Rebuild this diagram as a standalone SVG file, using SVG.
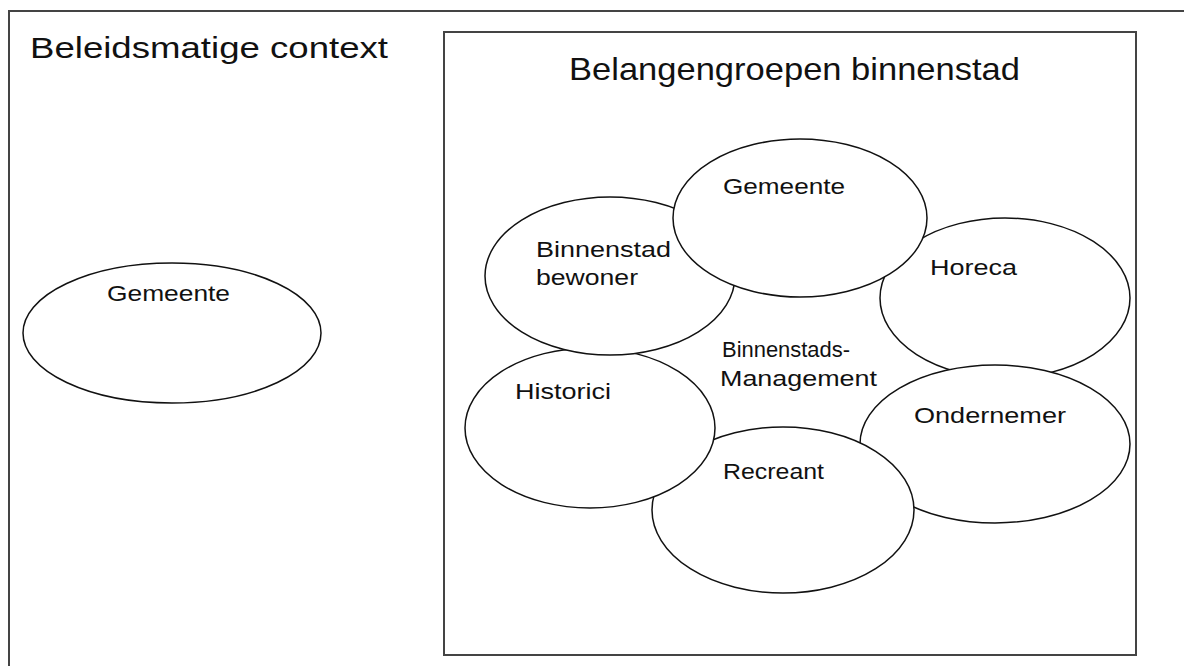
<svg xmlns="http://www.w3.org/2000/svg" width="1184" height="666" viewBox="0 0 1184 666">
  <style>
    .frame { fill: none; stroke: #444; stroke-width: 2; }
    .node ellipse { fill: #fff; stroke: #111; stroke-width: 1.5; }
    text { font-family: "Liberation Sans", Arial, sans-serif; fill: #111; }
    .title { font-size: 29px; }
    .title2 { font-size: 32px; }
    .label { font-size: 22px; }
  </style>
  <rect width="1184" height="666" fill="#fff"/>
  <g id="context">
    <rect class="frame" x="9" y="11" width="1190" height="670"/>
    <text class="title" x="30" y="58" textLength="358" lengthAdjust="spacingAndGlyphs">Beleidsmatige context</text>
  </g>
  <g id="belangengroepen">
    <rect class="frame" x="444" y="32" width="692" height="623"/>
    <text class="title2" x="569" y="80" textLength="451" lengthAdjust="spacingAndGlyphs">Belangengroepen binnenstad</text>
  </g>
  <g id="gemeente-context" class="node">
    <ellipse cx="172" cy="333" rx="149" ry="70"/>
    <text class="label" x="107" y="301" textLength="123" lengthAdjust="spacingAndGlyphs">Gemeente</text>
  </g>
  <g id="horeca" class="node">
    <ellipse cx="1005" cy="298" rx="125" ry="80"/>
    <text class="label" x="930" y="275" textLength="87" lengthAdjust="spacingAndGlyphs">Horeca</text>
  </g>
  <g id="ondernemer" class="node">
    <ellipse cx="995" cy="444" rx="135" ry="79"/>
    <text class="label" x="914" y="423" textLength="152" lengthAdjust="spacingAndGlyphs">Ondernemer</text>
  </g>
  <g id="recreant" class="node">
    <ellipse cx="783" cy="510" rx="131" ry="83"/>
    <text class="label" x="723" y="479" textLength="101" lengthAdjust="spacingAndGlyphs">Recreant</text>
  </g>
  <g id="historici" class="node">
    <ellipse cx="590" cy="428" rx="125" ry="80"/>
    <text class="label" x="515" y="399" textLength="96" lengthAdjust="spacingAndGlyphs">Historici</text>
  </g>
  <g id="binnenstadbewoner" class="node">
    <ellipse cx="610" cy="276" rx="125" ry="79"/>
    <text class="label" x="536" y="257" textLength="135" lengthAdjust="spacingAndGlyphs">Binnenstad</text>
    <text class="label" x="536" y="285" textLength="102" lengthAdjust="spacingAndGlyphs">bewoner</text>
  </g>
  <g id="gemeente" class="node">
    <ellipse cx="800" cy="218" rx="127" ry="79"/>
    <text class="label" x="723" y="194" textLength="122" lengthAdjust="spacingAndGlyphs">Gemeente</text>
  </g>
  <g id="binnenstadsmanagement">
    <text class="label" x="722" y="357" textLength="128" lengthAdjust="spacingAndGlyphs">Binnenstads-</text>
    <text class="label" x="720" y="386" textLength="157" lengthAdjust="spacingAndGlyphs">Management</text>
  </g>
  <g id="connectors"/>
</svg>
